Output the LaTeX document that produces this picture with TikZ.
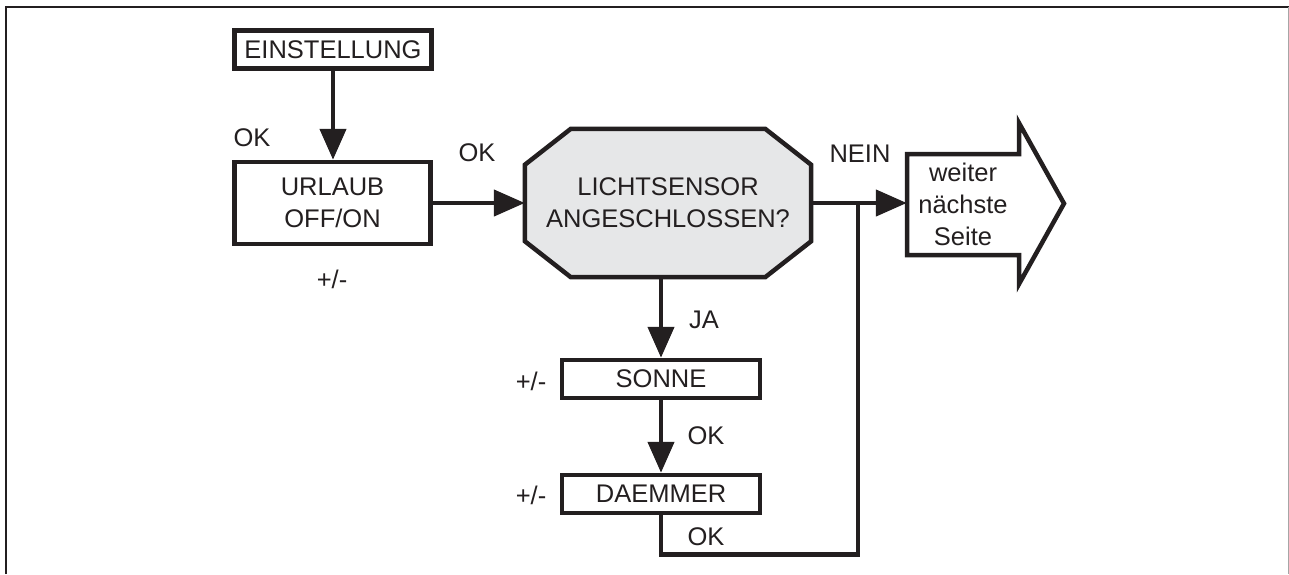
\documentclass[tikz,border=0pt]{standalone}
\usepackage{fontspec}
\setmainfont{Liberation Sans}
\usetikzlibrary{arrows.meta,calc}
\definecolor{ink}{HTML}{231F20}
\definecolor{octfill}{HTML}{E6E7E8}
\tikzset{
  txt/.style={font=\fontsize{25.5}{32}\selectfont, text=ink},
  lbl/.style={txt, inner sep=0pt},
  boxnode/.style={txt, draw=ink, line width=4.5pt, inner sep=0pt, fill=white},
  conn/.style={draw=ink, line width=4.5pt},
  arr/.style={conn, -{Triangle[width=26pt,length=31pt]}},
  outline/.style={draw=ink, line width=4.5pt, line join=miter},
}
\begin{document}
\begin{tikzpicture}[x=1pt,y=-1pt]
\useasboundingbox (0,0) rectangle (1289,574);
% frame
\draw[line width=2.5pt, draw=ink] (6,574) -- (6,7) -- (1289,7);
\draw[line width=1pt, draw=black!35] (1288,7) -- (1288,574);

% boxes
\node[boxnode, minimum width=197pt, minimum height=38pt] (ein) at (333,49.5) {EINSTELLUNG};
\node[boxnode, minimum width=196pt, minimum height=82pt, align=center] (url) at (332.5,203) {URLAUB\\OFF/ON};
\node[boxnode, minimum width=198pt, minimum height=38pt] (son) at (661,379) {SONNE};
\node[boxnode, minimum width=198pt, minimum height=38pt] (dae) at (661,494) {DAEMMER};

% octagon
\node[txt, inner sep=0pt, minimum width=286pt, minimum height=148pt, align=center] (oct) at (668,203) {LICHTSENSOR\\ANGESCHLOSSEN?};
\path[outline, fill=octfill]
  ($(oct.north west)+(46,0)$) -- ($(oct.north east)+(-46,0)$) -- ($(oct.north east)+(0,36)$)
  -- ($(oct.south east)+(0,-36)$) -- ($(oct.south east)+(-46,0)$) -- ($(oct.south west)+(46,0)$)
  -- ($(oct.south west)+(0,-36)$) -- ($(oct.north west)+(0,36)$) -- cycle;
\node[txt, inner sep=0pt, align=center] at (oct.center) {LICHTSENSOR\\ANGESCHLOSSEN?};

% big arrow
\node[txt, inner sep=0pt, minimum width=112pt, minimum height=101pt, align=center] (next) at (963,204.5) {};
\path[outline, fill=white]
  (907,154) -- (1019,154) -- (1019,123) -- (1064,203.5) -- (1019,284) -- (1019,255) -- (907,255) -- cycle;
\node[txt, inner sep=0pt, align=center] at (963,204) {weiter\\nächste\\Seite};

% connectors
\draw[arr] (ein.south) -- (ein.south |- url.north);
\draw[arr] (url.east) -- (url.east -| oct.west);
\draw[arr] (oct.east) -- (oct.east -| next.west);
\draw[arr] (son.north |- oct.south) -- (son.north);
\draw[arr] (son.south) -- (dae.north);
\coordinate (j) at (858,203);
\coordinate (lb) at (858,554.5);
\draw[conn, line join=miter] (dae.south) |- (lb) -- (j);

% labels
\node[lbl] (okA) at (252,138) {OK};
\node[lbl] (pmA) at (332,279) {+/-};
\node[lbl] (okB) at (477,153) {OK};
\node[lbl] (nein) at (860,154) {NEIN};
\node[lbl] (ja) at (704,320) {JA};
\node[lbl] (pmB) at (531,381) {+/-};
\node[lbl] (okC) at (706,436) {OK};
\node[lbl] (pmC) at (531,495) {+/-};
\node[lbl] (okD) at (706,537) {OK};
\end{tikzpicture}
\end{document}
